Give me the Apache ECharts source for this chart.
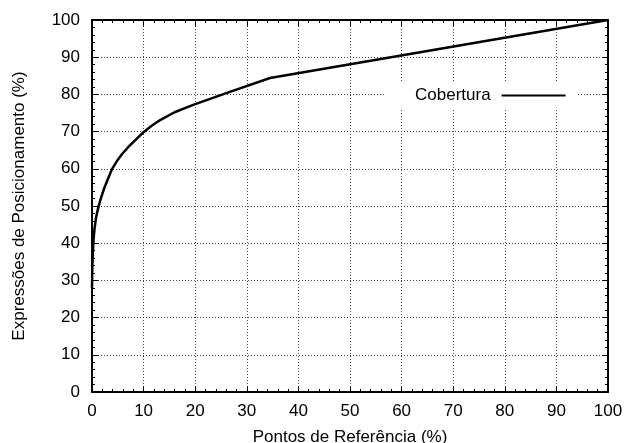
<!DOCTYPE html>
<html>
<head>
<meta charset="utf-8">
<script src="https://cdn.jsdelivr.net/npm/echarts@6/dist/echarts.min.js"></script>
<style>
  html, body { margin: 0; padding: 0; background: #fff; }
  #chart { width: 624px; height: 443px; }
</style>
</head>
<body>
<div id="chart"></div>
<script>
// coverage curve
var pontos = [0, 0.05, 0.15, 0.3, 0.5, 0.8, 1.2, 1.7, 2.3, 3.0, 3.9, 4.8, 5.8, 7.0, 8.3, 9.8, 11.5, 13.2, 16, 19.6, 27, 34.5, 100];
var cobertura = [28, 33, 37, 41, 44, 47, 49.5, 52, 54.5, 57, 60, 62, 63.9, 65.8, 67.6, 69.6, 71.5, 73.1, 75.2, 77.2, 80.8, 84.4, 100];
var serieNome = 'Cobertura';
var xNome = 'Pontos de Referência (%)';
var yNome = 'Expressões de Posicionamento (%)';

var fonte = 'Liberation Sans, Arial, sans-serif';

var dados = pontos.map(function (x, i) {
    return [x, cobertura[i]];
});

function eixo(extra) {
    var base = {
        type: 'value',
        min: 0,
        max: 100,
        interval: 10,
        axisLine: { show: true, onZero: false, lineStyle: { color: '#000', width: 2 } },
        axisTick: { show: true, inside: true, length: 6, lineStyle: { color: '#000', width: 1 } },
        minorTick: { show: true, splitNumber: 5, length: 3, lineStyle: { color: '#000', width: 1 } },
        axisLabel: { show: false },
        splitLine: { show: false }
    };
    for (var k in extra) base[k] = extra[k];
    return base;
}

var chart = echarts.init(document.getElementById('chart'));

chart.setOption({
    animation: false,
    textStyle: { fontFamily: fonte },
    grid: { left: 92, right: 16, top: 20, bottom: 51, outerBoundsMode: 'none' },
    legend: {
        data: [serieNome],
        left: 386,
        top: 82,
        align: 'right',
        backgroundColor: '#fff',
        padding: [5, 11, 5, 29],
        itemWidth: 64,
        itemHeight: 16,
        icon: 'path://M0,7L64,7L64,9L0,9Z',
        itemStyle: { color: '#000' },
        textStyle: { fontSize: 17, color: '#000', fontFamily: fonte, padding: [0, 6, 0, 0] }
    },
    xAxis: [
        eixo({
            position: 'bottom',
            name: xNome,
            nameLocation: 'middle',
            nameGap: 37,
            nameTextStyle: { fontSize: 17, color: '#000', fontFamily: fonte },
            axisLabel: { show: true, fontSize: 17, color: '#000', margin: 11, fontFamily: fonte },
            splitLine: { show: true, lineStyle: { color: '#444', type: [1, 2], width: 1 } }
        }),
        eixo({ position: 'top' })
    ],
    yAxis: [
        eixo({
            position: 'left',
            name: yNome,
            nameLocation: 'middle',
            nameGap: 64,
            nameTextStyle: { fontSize: 17, color: '#000', fontFamily: fonte },
            axisLabel: { show: true, fontSize: 17, color: '#000', margin: 12, fontFamily: fonte },
            splitLine: { show: true, lineStyle: { color: '#444', type: [1, 2], width: 1 } }
        }),
        eixo({ position: 'right' })
    ],
    series: [{
        name: serieNome,
        type: 'line',
        xAxisIndex: 0,
        yAxisIndex: 0,
        data: dados,
        symbol: 'none',
        smooth: false,
        lineStyle: { color: '#000', width: 2.5, join: 'round' },
        itemStyle: { color: '#000' },
        z: 3
    }]
});
</script>
</body>
</html>
